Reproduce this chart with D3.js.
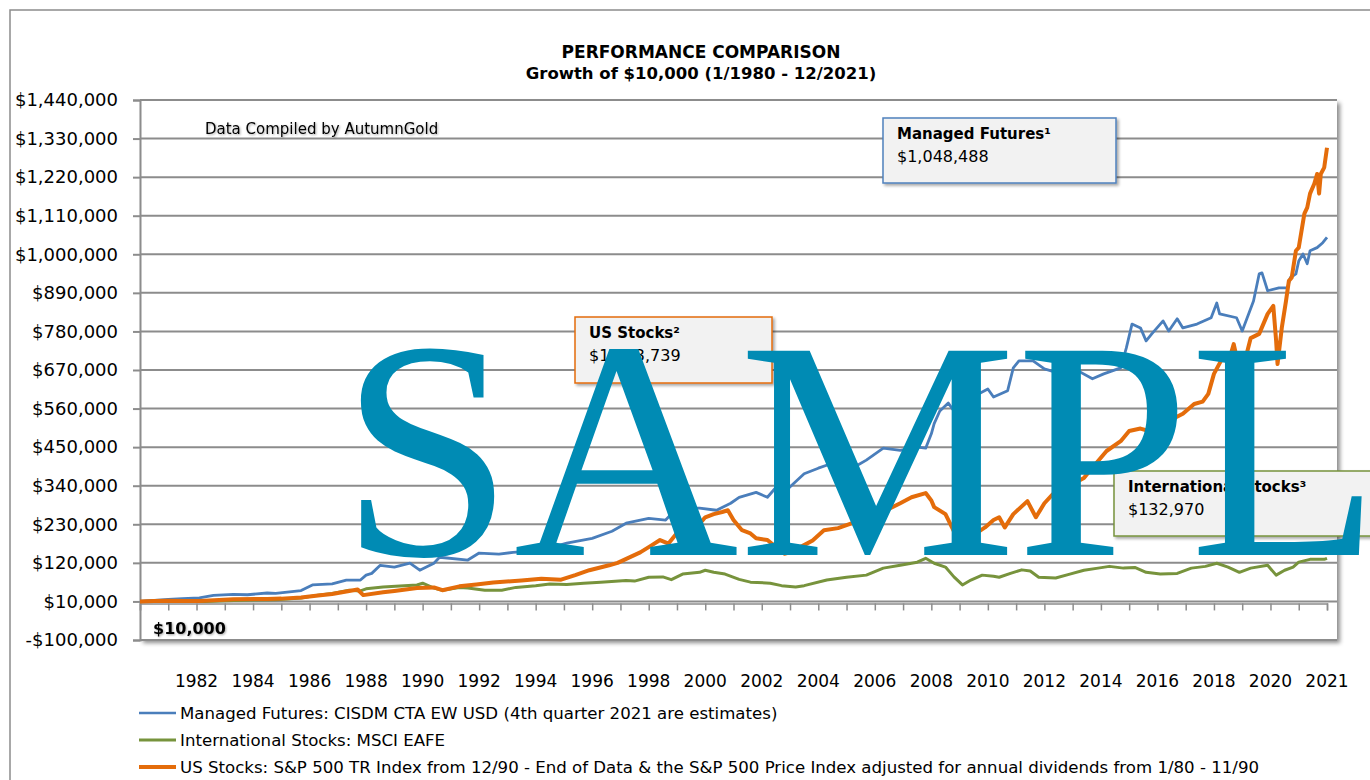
<!DOCTYPE html>
<html>
<head>
<meta charset="utf-8">
<script src="https://cdn.jsdelivr.net/npm/d3@7"></script>
<style>
  body { margin: 0; background: #fff; }
  svg { display: block; font-family: "DejaVu Sans", sans-serif; }
</style>
</head>
<body>
<div id="chart"></div>
<script>
// Growth of $10,000, 1980 - 2021

const mfYears = [1980.0, 1980.5, 1981.0, 1981.5, 1982.1, 1982.6, 1983.3, 1983.8, 1984.5, 1984.8,
  1985.7, 1986.1, 1986.8, 1987.3, 1987.8, 1988.0, 1988.2, 1988.5, 1989.0, 1989.55,
  1989.9, 1990.4, 1990.6, 1991.6, 1992.0, 1992.7, 1993.2, 1994.2, 1995.1, 1996.0,
  1996.7, 1997.2, 1998.0, 1998.6, 1999.0, 1999.8, 2000.4, 2000.9, 2001.2, 2001.8,
  2002.2, 2002.5, 2002.9, 2003.5, 2004.0, 2004.5, 2005.4, 2005.7, 2006.3, 2006.9,
  2007.5, 2007.8, 2008.0, 2008.1, 2008.3, 2008.6, 2008.8, 2009.0, 2009.3, 2009.6,
  2010.0, 2010.2, 2010.4, 2010.7, 2010.9, 2011.1, 2011.6, 2012.0, 2012.6, 2013.0,
  2013.7, 2014.1, 2014.7, 2014.9, 2015.1, 2015.4, 2015.6, 2015.8, 2016.2, 2016.4,
  2016.7, 2016.9, 2017.4, 2017.9, 2018.1, 2018.2, 2018.8, 2019.0, 2019.4, 2019.6,
  2019.7, 2019.9, 2020.3, 2020.6, 2020.7, 2020.9, 2021.0, 2021.15, 2021.3, 2021.4,
  2021.65, 2021.85, 2022.0];
const mfValues = [10000, 13000, 16000, 18000, 20000, 27000, 30000, 29000, 34000, 33000,
  41000, 57000, 60000, 71000, 71000, 85000, 90000, 113000, 108000, 119000,
  99000, 119000, 136000, 128000, 148000, 145000, 150000, 156000, 176000, 190000,
  210000, 233000, 247000, 242000, 276000, 276000, 270000, 290000, 307000, 321000,
  307000, 335000, 329000, 374000, 390000, 404000, 399000, 413000, 447000, 441000,
  450000, 447000, 488000, 517000, 553000, 576000, 553000, 561000, 590000, 599000,
  616000, 593000, 600000, 611000, 676000, 696000, 696000, 673000, 659000, 676000,
  645000, 659000, 676000, 733000, 801000, 790000, 753000, 773000, 810000, 781000,
  816000, 790000, 801000, 819000, 861000, 830000, 819000, 781000, 867000, 944000,
  947000, 896000, 904000, 904000, 933000, 944000, 981000, 1001000, 973000, 1010000,
  1019000, 1033000, 1048488];

const usYears = [1980.0, 1980.5, 1981.0, 1981.6, 1982.1, 1982.8, 1983.3, 1984.5, 1985.0, 1985.7,
  1986.3, 1986.8, 1987.4, 1987.7, 1987.9, 1988.6, 1989.0, 1989.8, 1990.4, 1990.7,
  1991.3, 1991.9, 1992.5, 1993.5, 1994.2, 1994.9, 1995.4, 1995.9, 1996.6, 1996.9,
  1997.3, 1997.7, 1998.1, 1998.4, 1998.7, 1999.0, 1999.4, 1999.7, 2000.0, 2000.3,
  2000.6, 2000.8, 2001.0, 2001.3, 2001.6, 2001.8, 2002.2, 2002.5, 2002.8, 2003.0,
  2003.3, 2003.8, 2004.2, 2004.7, 2005.2, 2005.7, 2006.3, 2006.4, 2006.9, 2007.3,
  2007.8, 2008.0, 2008.1, 2008.5, 2008.8, 2009.2, 2009.5, 2009.9, 2010.2, 2010.4,
  2010.6, 2010.9, 2011.4, 2011.7, 2012.0, 2012.3, 2012.7, 2013.0, 2013.4, 2013.6,
  2014.2, 2014.7, 2015.0, 2015.4, 2015.7, 2015.8, 2016.1, 2016.4, 2016.9, 2017.3,
  2017.6, 2017.8, 2018.0, 2018.3, 2018.6, 2018.7, 2018.95, 2019.3, 2019.6, 2019.9,
  2020.1, 2020.2, 2020.25, 2020.4, 2020.55, 2020.65, 2020.75, 2020.9, 2021.0, 2021.2,
  2021.3, 2021.4, 2021.55, 2021.65, 2021.72, 2021.78, 2021.9, 2022.0];
const usValues = [10000, 11000, 12000, 11000, 11000, 14000, 16000, 17000, 18000, 21000,
  27000, 31000, 40000, 44000, 28000, 36000, 40000, 48000, 50000, 42000,
  53000, 58000, 64000, 70000, 75000, 72000, 85000, 99000, 113000, 120000,
  135000, 150000, 170000, 185000, 175000, 205000, 215000, 222000, 250000, 259000,
  265000, 270000, 242000, 213000, 204000, 190000, 185000, 165000, 146000, 150000,
  162000, 184000, 213000, 219000, 233000, 245000, 259000, 270000, 290000, 307000,
  319000, 298000, 279000, 259000, 210000, 175000, 200000, 221000, 242000, 250000,
  221000, 259000, 296000, 250000, 290000, 316000, 335000, 345000, 362000, 382000,
  439000, 467000, 496000, 503000, 496000, 505000, 485000, 525000, 545000, 573000,
  580000, 602000, 659000, 704000, 716000, 744000, 650000, 761000, 773000, 830000,
  853000, 753000, 687000, 790000, 867000, 924000, 933000, 1010000, 1019000, 1116000,
  1133000, 1173000, 1201000, 1229000, 1173000, 1229000, 1247000, 1303739];

const intlYears = [1980.0, 1980.5, 1981.0, 1981.6, 1982.3, 1983.0, 1984.0, 1984.8, 1985.7, 1986.3,
  1986.8, 1987.4, 1987.8, 1988.0, 1988.6, 1989.2, 1989.8, 1990.0, 1990.4, 1990.7,
  1991.3, 1991.6, 1992.2, 1992.8, 1993.3, 1994.0, 1994.5, 1995.1, 1995.7, 1996.3,
  1997.2, 1997.5, 1998.0, 1998.5, 1998.8, 1999.2, 1999.8, 2000.0, 2000.3, 2000.7,
  2001.2, 2001.6, 2002.3, 2002.7, 2003.2, 2003.5, 2004.3, 2005.0, 2005.7, 2006.3,
  2006.9, 2007.5, 2007.8, 2008.1, 2008.5, 2008.8, 2009.1, 2009.4, 2009.8, 2010.2,
  2010.4, 2010.8, 2011.2, 2011.5, 2011.8, 2012.4, 2012.9, 2013.4, 2013.9, 2014.3,
  2014.8, 2015.2, 2015.6, 2016.1, 2016.7, 2017.2, 2017.7, 2018.1, 2018.5, 2018.9,
  2019.3, 2019.9, 2020.2, 2020.5, 2020.8, 2021.0, 2021.4, 2021.9, 2022.0];
const intlValues = [10000, 11000, 11000, 10000, 10000, 12000, 14000, 15000, 20000, 28000,
  33000, 42000, 40000, 46000, 51000, 54000, 57000, 62000, 48000, 42000,
  50000, 48000, 42000, 42000, 50000, 55000, 60000, 58000, 62000, 65000,
  70000, 68000, 79000, 80000, 72000, 88000, 93000, 99000, 93000, 88000,
  73000, 65000, 62000, 55000, 51000, 55000, 71000, 79000, 85000, 105000,
  113000, 122000, 133000, 119000, 108000, 80000, 57000, 71000, 85000, 82000,
  79000, 90000, 100000, 97000, 79000, 77000, 88000, 99000, 105000, 110000,
  105000, 107000, 93000, 88000, 90000, 105000, 110000, 119000, 108000, 93000,
  105000, 113000, 85000, 99000, 108000, 122000, 130000, 130000, 132970];

const yTicks = [-100000, 10000, 120000, 230000, 340000, 450000, 560000, 670000,
  780000, 890000, 1000000, 1110000, 1220000, 1330000, 1440000];
const xLabelYears = [1982, 1984, 1986, 1988, 1990, 1992, 1994, 1996, 1998, 2000,
  2002, 2004, 2006, 2008, 2010, 2012, 2014, 2016, 2018, 2020, 2022];
const xLabels = ["1982", "1984", "1986", "1988", "1990", "1992", "1994", "1996", "1998", "2000",
  "2002", "2004", "2006", "2008", "2010", "2012", "2014", "2016", "2018", "2020", "2021"];

const seriesNames = [
  "Managed Futures: CISDM CTA EW USD (4th quarter 2021 are estimates)",
  "International Stocks: MSCI EAFE",
  "US Stocks: S&P 500 TR Index from 12/90 - End of Data & the S&P 500 Price Index adjusted for annual dividends from 1/80 - 11/90"
];
const boxTitles = ["Managed Futures\u00b9", "US Stocks\u00b2", "International Stocks\u00b3"];
const boxValues = ["$1,048,488", "$1,303,739", "$132,970"];

// Dimensions
const W = 1370, H = 780;
const plot = {left: 140, top: 100, right: 1337, bottom: 640};

const svg = d3.select("#chart").append("svg")
  .attr("width", W)
  .attr("height", H);

const defs = svg.append("defs");
const shadow = defs.append("filter").attr("id", "shadow")
  .attr("x", "-10%").attr("y", "-10%").attr("width", "130%").attr("height", "140%");
shadow.append("feDropShadow").attr("dx", 2).attr("dy", 2).attr("stdDeviation", 1.5)
  .attr("flood-color", "#000").attr("flood-opacity", 0.35);
const plotShadow = defs.append("filter").attr("id", "plot-shadow")
  .attr("x", "-2%").attr("y", "-2%").attr("width", "104%").attr("height", "106%");
plotShadow.append("feDropShadow").attr("dx", 3).attr("dy", 3).attr("stdDeviation", 2)
  .attr("flood-color", "#000").attr("flood-opacity", 0.45);
const textShadow = defs.append("filter").attr("id", "text-shadow");
textShadow.append("feDropShadow").attr("dx", 1).attr("dy", 1).attr("stdDeviation", 1)
  .attr("flood-color", "#000").attr("flood-opacity", 0.35);
defs.append("clipPath").attr("id", "plot-clip").append("rect")
  .attr("x", plot.left).attr("y", plot.top - 10)
  .attr("width", plot.right - plot.left).attr("height", plot.bottom - plot.top + 10);

// Outer chart frame
svg.append("rect")
  .attr("x", 10).attr("y", 10).attr("width", 1420).attr("height", 820)
  .attr("fill", "#fff").attr("stroke", "#8c8c8c").attr("stroke-width", 1.5);

// Scales
const x = d3.scaleLinear().domain([1980, 2022]).range([plot.left, 1327]);
const y = d3.scaleLinear().domain([-100000, 1440000]).range([plot.bottom, plot.top]);

// Plot area with shadow
svg.append("rect")
  .attr("x", plot.left).attr("y", plot.top)
  .attr("width", plot.right - plot.left).attr("height", plot.bottom - plot.top)
  .attr("fill", "#fff")
  .attr("filter", "url(#plot-shadow)");

// Gridlines + y axis
const yFmt = d3.format(",");
const yAxis = svg.append("g")
  .attr("transform", `translate(${plot.left},0)`)
  .call(d3.axisLeft(y).tickValues(yTicks).tickSize(7).tickPadding(15)
    .tickFormat(d => (d < 0 ? "-$" : "$") + yFmt(Math.abs(d))));
yAxis.select(".domain").attr("stroke", "#8c8c8c").attr("stroke-width", 2);
yAxis.selectAll(".tick line").attr("stroke", "#8c8c8c").attr("stroke-width", 2);
yAxis.selectAll(".tick text")
  .attr("fill", "#000")
  .style("font-size", "18px")
  .style("font-family", "'DejaVu Sans', sans-serif");

svg.append("g")
  .selectAll("line")
  .data(yTicks)
  .join("line")
  .attr("x1", plot.left).attr("x2", plot.right)
  .attr("y1", d => y(d)).attr("y2", d => y(d))
  .attr("stroke", "#8c8c8c").attr("stroke-width", 2);

// x axis crosses at $10,000
const xAxis = svg.append("g")
  .attr("transform", `translate(0,${y(10000) + 2})`)
  .call(d3.axisBottom(x).tickValues(d3.range(1980, 2023)).tickSize(7).tickFormat(""));
xAxis.select(".domain").attr("stroke", "#8c8c8c").attr("stroke-width", 1.5);
xAxis.selectAll(".tick line").attr("stroke", "#8c8c8c").attr("stroke-width", 1.5);

svg.append("g")
  .selectAll("text")
  .data(xLabelYears)
  .join("text")
  .attr("x", d => x(d))
  .attr("y", 687)
  .attr("text-anchor", "middle")
  .style("font-size", "17px")
  .text((d, i) => xLabels[i]);

// Lines
const line = d3.line()
  .x(d => x(d[0]))
  .y(d => y(d[1]));

const series = [
  {years: intlYears, values: intlValues, color: "#77933c", width: 3},
  {years: mfYears, values: mfValues, color: "#4a7ebb", width: 2.8},
  {years: usYears, values: usValues, color: "#e46c0a", width: 4}
];

const lines = svg.append("g").attr("clip-path", "url(#plot-clip)");
series.forEach(s => {
  lines.append("path")
    .datum(s.years.map((yr, i) => [yr, s.values[i]]))
    .attr("fill", "none")
    .attr("stroke", s.color)
    .attr("stroke-width", s.width)
    .attr("stroke-linejoin", "round")
    .attr("d", line);
});

// Titles
svg.append("text")
  .attr("x", 701).attr("y", 58)
  .attr("text-anchor", "middle")
  .style("font-size", "17px").style("font-weight", "bold")
  .text("PERFORMANCE COMPARISON");
svg.append("text")
  .attr("x", 701).attr("y", 79)
  .attr("text-anchor", "middle")
  .style("font-size", "16.5px").style("font-weight", "bold")
  .text("Growth of $10,000 (1/1980 - 12/2021)");

svg.append("text")
  .attr("x", 205).attr("y", 134)
  .style("font-size", "15px")
  .attr("filter", "url(#text-shadow)")
  .text("Data Compiled by AutumnGold");

svg.append("text")
  .attr("x", 153).attr("y", 634)
  .style("font-size", "16px").style("font-weight", "bold")
  .attr("filter", "url(#text-shadow)")
  .text("$10,000");

// Value boxes
const boxes = [
  {x0: 883, y0: 118, w: 233, h: 65, stroke: "#4f81bd"},
  {x0: 575, y0: 317, w: 197, h: 66, stroke: "#e46c0a"},
  {x0: 1114, y0: 471, w: 258, h: 65, stroke: "#77933c"}
];
boxes.forEach((b, i) => {
  const g = svg.append("g");
  g.append("rect")
    .attr("x", b.x0).attr("y", b.y0).attr("width", b.w).attr("height", b.h)
    .attr("fill", "#f2f2f2").attr("stroke", b.stroke).attr("stroke-width", 1.5)
    .attr("filter", "url(#shadow)");
  g.append("text")
    .attr("x", b.x0 + 14).attr("y", b.y0 + 21)
    .style("font-size", "15px").style("font-weight", "bold")
    .text(boxTitles[i]);
  g.append("text")
    .attr("x", b.x0 + 14).attr("y", b.y0 + 44)
    .style("font-size", "16px")
    .text(boxValues[i]);
});

// Legend
const legendColors = ["#4a7ebb", "#77933c", "#e46c0a"];
const legendWidths = [2.5, 3, 4];
const legend = svg.append("g");
seriesNames.forEach((name, i) => {
  const ly = 713 + i * 27;
  legend.append("line")
    .attr("x1", 139).attr("x2", 176).attr("y1", ly).attr("y2", ly)
    .attr("stroke", legendColors[i]).attr("stroke-width", legendWidths[i]);
  legend.append("text")
    .attr("x", 180).attr("y", ly + 6)
    .style("font-size", "16.6px")
    .text(name);
});

// Watermark
svg.append("text")
  .attr("x", 340).attr("y", 555)
  .style("font-family", "'Liberation Serif', 'DejaVu Serif', serif")
  .style("font-size", "312px")
  .attr("fill", "#008bb4")
  .text("SAMPLE");
</script>
</body>
</html>
